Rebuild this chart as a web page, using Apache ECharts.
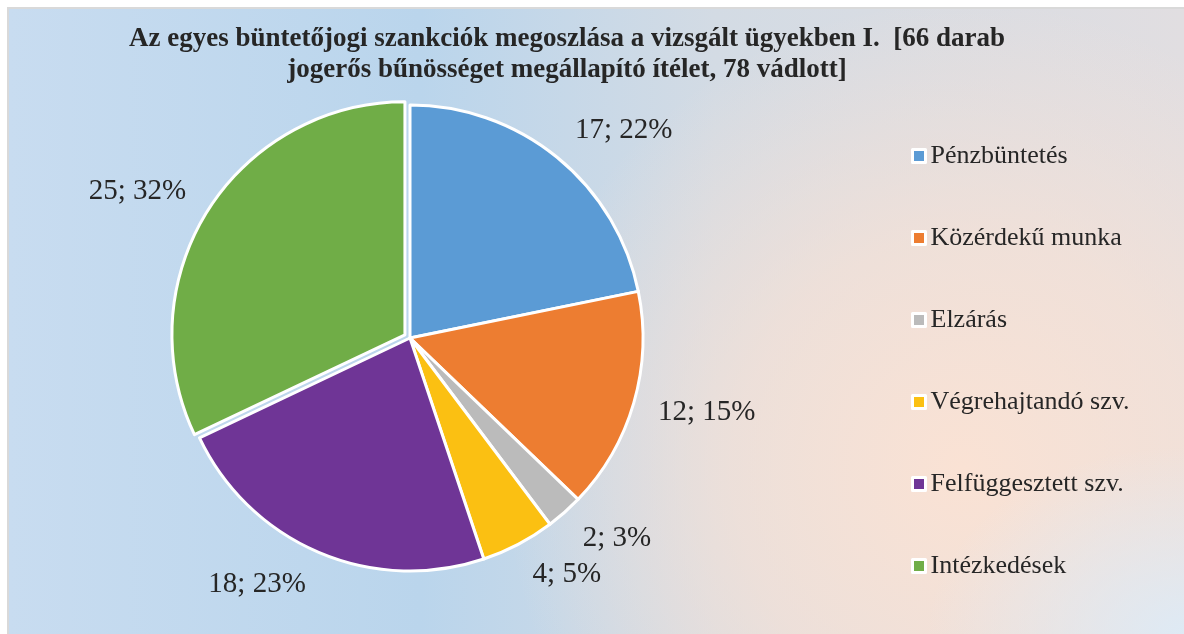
<!DOCTYPE html>
<html>
<head>
<meta charset="utf-8">
<script src="https://cdn.jsdelivr.net/npm/echarts@6/dist/echarts.min.js"></script>
<style>
  html, body { margin: 0; padding: 0; background: #ffffff; }
  #wrap { position: relative; width: 1184px; height: 634px; background: #ffffff; overflow: hidden; }
  #bg {
    position: absolute; left: 7px; top: 7px; right: 0; bottom: 0;
    border-left: 2px solid #d9d9d9; border-top: 2px solid #d9d9d9;
    background:
      radial-gradient(ellipse 260px 190px at 1177px 627px, rgba(222,234,245,1) 0%, rgba(222,234,245,0) 100%),
      radial-gradient(ellipse 460px 470px at 955px 460px, rgba(250,226,212,1) 0%, rgba(250,226,212,0.65) 50%, rgba(250,226,212,0) 100%),
      linear-gradient(90deg, #c8dcf0 0%, #bad5ec 35%, #d3dbe4 60%, #e1dee1 100%);
  }
  #chart { position: absolute; left: 0; top: 0; width: 1184px; height: 634px; }
</style>
</head>
<body>
<div id="wrap">
  <div id="bg"></div>
  <div id="chart"></div>
</div>
<script>
  var titleText = 'Az egyes büntetőjogi szankciók megoszlása a vizsgált ügyekben I.  [66 darab\njogerős bűnösséget megállapító ítélet, 78 vádlott]';
  var categories = ['Pénzbüntetés', 'Közérdekű munka', 'Elzárás', 'Végrehajtandó szv.', 'Felfüggesztett szv.', 'Intézkedések'];
  var values = [17, 12, 2, 4, 18, 25];
  var colors = ['#5b9bd5', '#ed7d31', '#bbbbbb', '#fbc012', '#6f3596', '#70ad47'];
  var explodedIndex = 5;

  var pieCenter = [410, 338];
  var pieRadius = 233;
  var explodeOffset = 6;
  var labelGap = 20;
  var labelSideGap = 5;

  var total = values.reduce(function (a, b) { return a + b; }, 0);

  function midAngle(i) {
    var before = 0;
    for (var k = 0; k < i; k++) before += values[k];
    return (before + values[i] / 2) / total * 2 * Math.PI; // clockwise from top
  }
  function dirOf(i) {
    var a = midAngle(i);
    return [Math.sin(a), -Math.cos(a)];
  }
  var exDir = dirOf(explodedIndex);
  var explodedCenter = [pieCenter[0] + exDir[0] * explodeOffset, pieCenter[1] + exDir[1] * explodeOffset];

  var chart = echarts.init(document.getElementById('chart'), null, { renderer: 'canvas' });

  var HIDDEN = 'rgba(0,0,0,0)';
  var mainData = categories.map(function (name, i) {
    var ex = i === explodedIndex;
    return {
      name: name, value: values[i],
      itemStyle: { color: ex ? HIDDEN : colors[i], borderColor: ex ? HIDDEN : '#ffffff' }
    };
  });
  var explodedData = categories.map(function (name, i) {
    var ex = i === explodedIndex;
    return {
      name: name, value: values[i],
      itemStyle: { color: ex ? colors[i] : HIDDEN, borderColor: ex ? '#ffffff' : HIDDEN }
    };
  });

  var labelFont = 'Liberation Serif';

  var option = {
    backgroundColor: 'transparent',
    animation: false,
    graphic: [{
      type: 'text',
      x: 567,
      y: 24,
      silent: true,
      style: {
        text: titleText,
        align: 'center',
        verticalAlign: 'top',
        textAlign: 'center',
        textVerticalAlign: 'top',
        font: 'bold 27px "Liberation Serif"',
        lineHeight: 31,
        fill: '#262626'
      }
    }],
    legend: {
      orient: 'vertical',
      left: 906,
      top: 138,
      itemGap: 56,
      itemWidth: 13,
      itemHeight: 13,
      icon: 'rect',
      selectedMode: false,
      data: categories.map(function (name, i) {
        return { name: name, itemStyle: { color: colors[i], borderColor: '#ffffff', borderWidth: 3 } };
      }),
      textStyle: {
        fontFamily: labelFont,
        fontSize: 26,
        color: '#262626'
      }
    },
    series: [{
      type: 'pie',
      name: 'main',
      center: pieCenter,
      radius: pieRadius,
      startAngle: 90,
      clockwise: true,
      avoidLabelOverlap: false,
      emphasis: { disabled: true },
      itemStyle: { borderWidth: 3 },
      label: {
        show: true,
        position: 'outside',
        fontFamily: labelFont,
        fontSize: 29,
        color: '#262626',
        formatter: function (p) {
          return p.value + '; ' + Math.round(p.value / total * 100) + '%';
        }
      },
      labelLine: { show: false },
      labelLayout: function (params) {
        var i = params.dataIndex;
        var d = dirOf(i);
        var c = i === explodedIndex ? explodedCenter : pieCenter;
        var px = c[0] + d[0] * (pieRadius + labelGap);
        var py = c[1] + d[1] * (pieRadius + labelGap);
        var w = params.labelRect.width, h = params.labelRect.height;
        return {
          x: px + (d[0] >= 0 ? 1 : -1) * (w / 2 + labelSideGap),
          y: py + d[1] * h / 2,
          align: 'center',
          verticalAlign: 'middle'
        };
      },
      data: mainData
    }, {
      type: 'pie',
      name: 'exploded',
      center: explodedCenter,
      radius: pieRadius,
      startAngle: 90,
      clockwise: true,
      silent: true,
      emphasis: { disabled: true },
      itemStyle: { borderWidth: 3 },
      label: { show: false },
      labelLine: { show: false },
      data: explodedData
    }]
  };
  chart.setOption(option);
</script>
</body>
</html>
